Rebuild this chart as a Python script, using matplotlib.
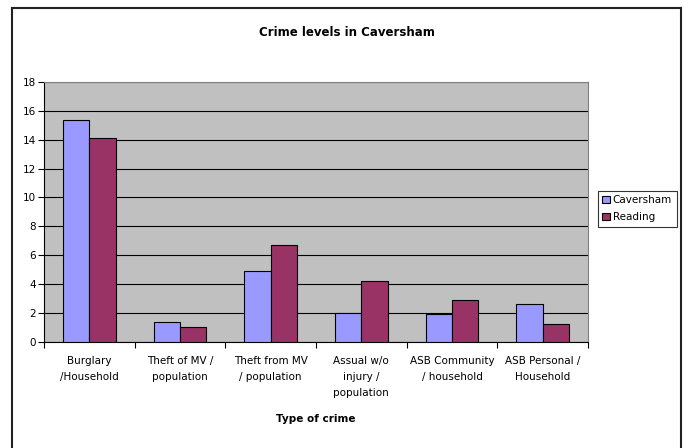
import numpy as np
import matplotlib.pyplot as plt
from matplotlib.lines import Line2D

categories = ["Burglary\n/Household", "Theft of MV /\npopulation", "Theft from MV\n/ population",
              "Assual w/o\ninjury /\npopulation", "ASB Community\n/ household", "ASB Personal /\nHousehold"]
caversham = [15.4, 1.35, 4.9, 2.0, 1.9, 2.6]
reading = [14.15, 1.05, 6.7, 4.2, 2.9, 1.25]

W, H = 690, 448
fig = plt.figure(figsize=(W / 100, H / 100), dpi=100)
fig.patch.set_facecolor("white")

# outer chart frame (runs off the bottom edge)
for xs, ys in [((12, 12), (8, 448)), ((12, 681), (8, 8)), ((681, 681), (8, 448))]:
    fig.add_artist(Line2D([x / W for x in xs], [1 - y / H for y in ys], color="#222222", lw=1.5))

ax = fig.add_axes([44 / W, (H - 341.7) / H, 544 / W, (341.7 - 82) / H])
ax.set_facecolor("#C0C0C0")

x = np.arange(len(categories))
bw = 0.29
ax.bar(x - bw / 2, caversham, bw, color="#9999FF", edgecolor="black", linewidth=0.8,
       label="Caversham", zorder=3)
ax.bar(x + bw / 2, reading, bw, color="#993366", edgecolor="black", linewidth=0.8,
       label="Reading", zorder=3)

ax.set_xlim(-0.5, len(categories) - 0.5)
ax.set_ylim(0, 18)
ax.set_yticks(range(0, 19, 2))
ax.yaxis.grid(True, color="black", linewidth=0.8, zorder=0)
ax.set_axisbelow(True)

ax.set_xticks(np.arange(-0.5, len(categories), 1))
ax.set_xticklabels([])
ax.set_xticks(x, minor=True)
ax.set_xticklabels(categories, minor=True, fontsize=7.5, linespacing=1.75)
ax.tick_params(axis="x", which="minor", length=0, pad=10)
ax.tick_params(axis="x", which="major", length=4, color="black")
ax.tick_params(axis="y", length=4, labelsize=7.5, pad=2)

for s in ["top", "right"]:
    ax.spines[s].set_color("#808080")
for s in ["left", "bottom"]:
    ax.spines[s].set_color("black")

ax.set_xlabel("Type of crime", fontsize=7.5, fontweight="bold", labelpad=12)
fig.text(347 / W, 1 - 33 / H, "Crime levels in Caversham", ha="center", va="center",
         fontsize=8.5, fontweight="bold")

leg = fig.legend(loc="upper left", bbox_to_anchor=(597.7 / W, 1 - 190.7 / H), fontsize=7.5,
                 frameon=True, fancybox=False, edgecolor="black", handlelength=0.7,
                 handleheight=0.7, handletextpad=0.3, borderpad=0.45, labelspacing=0.65,
                 borderaxespad=0)
leg.get_frame().set_linewidth(0.8)

fig.savefig("out.png", dpi=100)
